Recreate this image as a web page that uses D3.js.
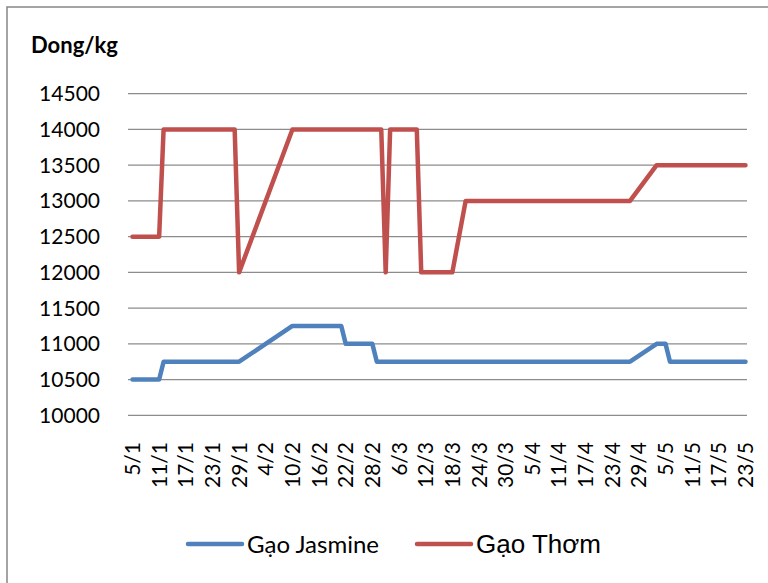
<!DOCTYPE html>
<html lang="vi">
<head>
<meta charset="UTF-8">
<title>Giá gạo</title>
<script src="https://d3js.org/d3.v7.min.js"></script>
<style>
    body { margin: 0; background: #fff; }
    svg { display: block; }
    .grid line { stroke: #8c8c8c; stroke-width: 1.3; }
    .tick-label { font-family: Lato, sans-serif; font-size: 21px; fill: #000; }
    .unit { font-family: Lato, sans-serif; font-size: 22px; font-weight: bold; }
</style>
</head>
<body>
<div id="chart"></div>
<script>
    const width = 768;
    const height = 583;

    // truc tung
    const yTicks = [10000, 10500, 11000, 11500, 12000, 12500, 13000, 13500, 14000, 14500];
    // nhan truc hoanh (ngay/thang)
    const xTickLabels = ["5/1", "11/1", "17/1", "23/1", "29/1", "4/2", "10/2", "16/2", "22/2", "28/2",
        "6/3", "12/3", "18/3", "24/3", "30/3", "5/4", "11/4", "17/4", "23/4", "29/4",
        "5/5", "11/5", "17/5", "23/5"];

    // Gao Jasmine
    const jasmineDates = ["5/1", "11/1", "12/1", "29/1", "10/2", "21/2", "22/2", "28/2", "1/3",
        "27/4", "3/5", "5/5", "6/5", "23/5"];
    const jasmineValues = [10500, 10500, 10750, 10750, 11250, 11250, 11000, 11000, 10750,
        10750, 11000, 11000, 10750, 10750];

    // Gao Thom
    const thomDates = ["5/1", "11/1", "12/1", "28/1", "29/1", "10/2", "2/3", "3/3", "4/3",
        "10/3", "11/3", "18/3", "21/3", "27/4", "3/5", "23/5"];
    const thomValues = [12500, 12500, 14000, 14000, 12000, 14000, 14000, 12000, 14000,
        14000, 12000, 12000, 13000, 13000, 13500, 13500];

    const seriesNames = ["Gạo Jasmine", "Gạo Thơm"];
    const seriesColors = ["#4f81bd", "#c0504d"];

    const parse = d3.timeParse("%d/%m/%Y");
    const parseDay = s => parse(s + "/2011");

    const svg = d3.select("#chart").append("svg")
        .attr("width", width)
        .attr("height", height);

    // khung ngoai
    svg.append("rect")
        .attr("x", 7).attr("y", 7)
        .attr("width", 820).attr("height", 640)
        .attr("fill", "none")
        .attr("stroke", "#868686")
        .attr("stroke-width", 1.5);

    const x = d3.scaleTime()
        .domain([parseDay(xTickLabels[0]), parseDay(xTickLabels[xTickLabels.length - 1])])
        .range([132.5, 745.5]);

    const y = d3.scaleLinear()
        .domain([yTicks[0], yTicks[yTicks.length - 1]])
        .range([415.3, 93.7]);

    // luoi ngang
    svg.append("g").attr("class", "grid")
        .selectAll("line")
        .data(yTicks)
        .join("line")
        .attr("x1", 128).attr("x2", 747)
        .attr("y1", d => y(d)).attr("y2", d => y(d));

    // nhan truc tung
    svg.append("g")
        .selectAll("text")
        .data(yTicks)
        .join("text")
        .attr("class", "tick-label")
        .attr("x", 100)
        .attr("y", d => y(d))
        .attr("dy", "0.36em")
        .attr("text-anchor", "end")
        .text(d => d);

    // nhan truc hoanh, xoay doc
    svg.append("g")
        .selectAll("text")
        .data(xTickLabels)
        .join("text")
        .attr("class", "tick-label")
        .attr("transform", d => `translate(${x(parseDay(d))},442) rotate(-90)`)
        .attr("dy", "0.36em")
        .attr("text-anchor", "end")
        .text(d => d);

    svg.append("text")
        .attr("class", "unit")
        .attr("x", 31)
        .attr("y", 53)
        .text("Dong/kg");

    const series = [
        { name: seriesNames[0], color: seriesColors[0],
          points: jasmineDates.map((d, i) => ({ date: parseDay(d), value: jasmineValues[i] })) },
        { name: seriesNames[1], color: seriesColors[1],
          points: thomDates.map((d, i) => ({ date: parseDay(d), value: thomValues[i] })) }
    ];

    const line = d3.line()
        .x(d => x(d.date))
        .y(d => y(d.value));

    svg.append("g")
        .selectAll("path")
        .data(series)
        .join("path")
        .attr("d", d => line(d.points))
        .attr("fill", "none")
        .attr("stroke", d => d.color)
        .attr("stroke-width", 4.5)
        .attr("stroke-linejoin", "round")
        .attr("stroke-linecap", "round");

    // chu thich
    const legendPos = [{ x: 188, font: "Lato, sans-serif", size: 24 },
                       { x: 417, font: "'Liberation Sans', Arial, sans-serif", size: 26 }];
    const legend = svg.append("g")
        .selectAll("g")
        .data(series)
        .join("g")
        .attr("transform", (d, i) => `translate(${legendPos[i].x},544)`);

    legend.append("line")
        .attr("x1", 0).attr("x2", 54)
        .attr("y1", 0).attr("y2", 0)
        .attr("stroke", d => d.color)
        .attr("stroke-width", 4.5)
        .attr("stroke-linecap", "round");

    legend.append("text")
        .attr("x", 59)
        .attr("y", 9)
        .attr("font-family", (d, i) => legendPos[i].font)
        .attr("font-size", (d, i) => legendPos[i].size)
        .text(d => d.name);
</script>
</body>
</html>
